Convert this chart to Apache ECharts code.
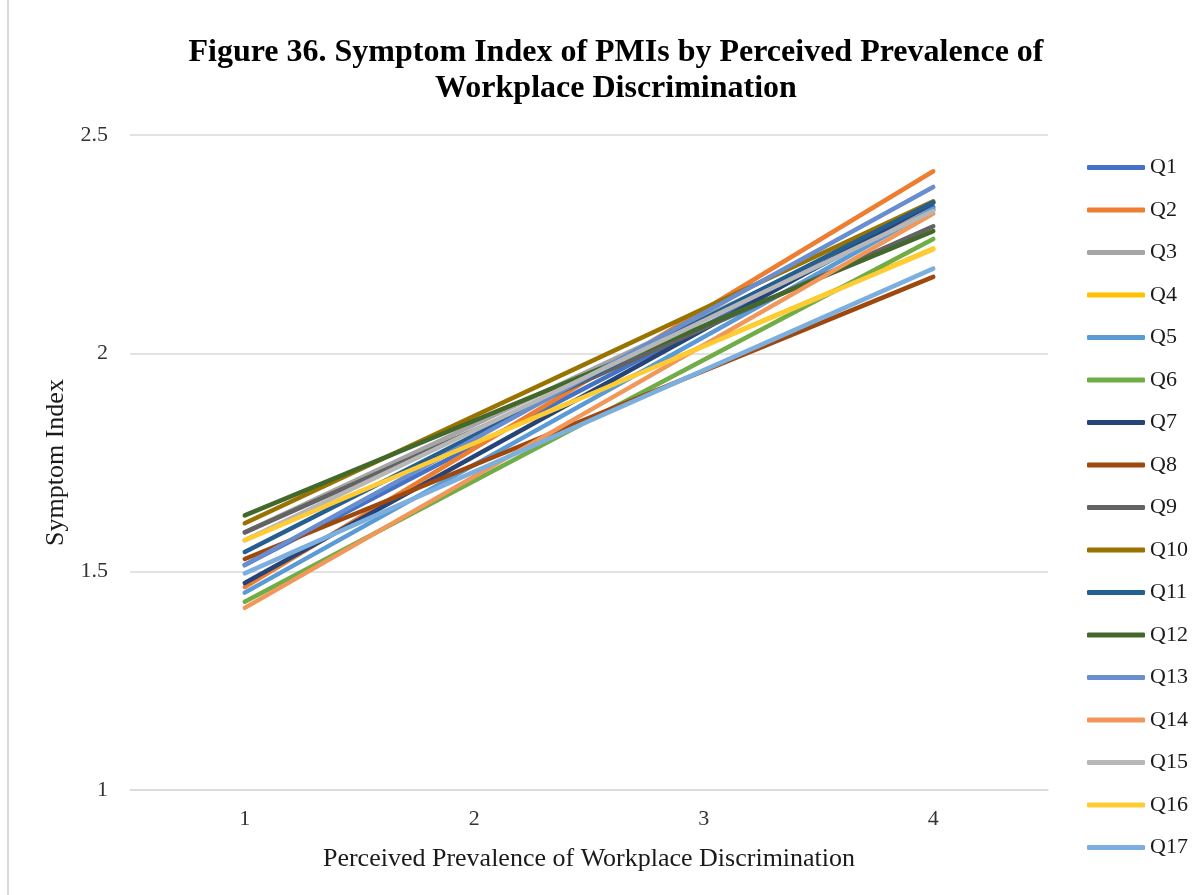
<!DOCTYPE html>
<html>
<head>
<meta charset="utf-8">
<script src="https://cdn.jsdelivr.net/npm/echarts@6/dist/echarts.min.js"></script>
<style>
  html, body { margin: 0; padding: 0; background: #ffffff; }
  #chart { width: 1204px; height: 895px; }
</style>
</head>
<body>
<div id="chart"></div>
<script>
// Perceived prevalence levels on the x axis
const categories = ['1', '2', '3', '4'];

// Symptom index per question: value at level 1 and level 4, straight line between
const seriesNames = ['Q1','Q2','Q3','Q4','Q5','Q6','Q7','Q8','Q9','Q10','Q11','Q12','Q13','Q14','Q15','Q16','Q17'];
const startValues = [1.515, 1.465, 1.590, 1.572, 1.452, 1.431, 1.474, 1.529, 1.590, 1.611, 1.545, 1.629, 1.515, 1.417, 1.572, 1.572, 1.496];
const endValues   = [2.335, 2.417, 2.330, 2.240, 2.330, 2.262, 2.345, 2.175, 2.291, 2.348, 2.346, 2.280, 2.381, 2.320, 2.326, 2.238, 2.194];

const seriesColors = ['#4472C4','#ED7D31','#A5A5A5','#FFC000','#5B9BD5','#70AD47','#264478','#9E480E',
                      '#636363','#997300','#255E91','#43682B','#698ED0','#F1975A','#B7B7B7','#FFCD33','#7CAFDD'];

const yTicks = { min: 1, max: 2.5, interval: 0.5 };

const serif = 'Liberation Serif, Times New Roman, serif';

const series = seriesNames.map((name, i) => ({
  name: name,
  type: 'line',
  data: [startValues[i], null, null, endValues[i]],
  connectNulls: true,
  symbol: 'none',
  color: seriesColors[i],
  lineStyle: { width: 4.5, cap: 'round', color: seriesColors[i] },
  emphasis: { disabled: true }
}));

const chart = echarts.init(document.getElementById('chart'), null, { renderer: 'canvas' });
chart.setOption({
  backgroundColor: '#ffffff',
  animation: false,
  title: {
    text: 'Figure 36. Symptom Index of PMIs by Perceived Prevalence of\nWorkplace Discrimination',
    left: 611,
    top: 30,
    textAlign: 'center',
    textStyle: { fontFamily: serif, fontWeight: 'bold', fontSize: 32, lineHeight: 36, color: '#000000' }
  },
  grid: { left: 130, right: 156, top: 135, bottom: 105, containLabel: false },
  xAxis: {
    type: 'category',
    data: categories,
    boundaryGap: true,
    name: 'Perceived Prevalence of Workplace Discrimination',
    nameLocation: 'middle',
    nameGap: 56,
    nameTextStyle: { fontFamily: serif, fontSize: 26, color: '#1a1a1a' },
    axisLine: { show: true, lineStyle: { color: '#d9d9d9', width: 1.5 } },
    axisTick: { show: false },
    axisLabel: { fontFamily: serif, fontSize: 22, color: '#333333', margin: 18 }
  },
  yAxis: {
    type: 'value',
    min: yTicks.min,
    max: yTicks.max,
    interval: yTicks.interval,
    name: 'Symptom Index',
    nameLocation: 'middle',
    nameGap: 51,
    nameRotate: 90,
    nameTextStyle: { fontFamily: serif, fontSize: 26, color: '#1a1a1a' },
    axisLine: { show: false },
    axisTick: { show: false },
    axisLabel: { fontFamily: serif, fontSize: 22, color: '#333333', margin: 22 },
    splitLine: { show: true, lineStyle: { color: '#d9d9d9', width: 1.5 } }
  },
  legend: {
    orient: 'vertical',
    left: 1082,
    top: 151.5,
    icon: 'roundRect',
    itemWidth: 58,
    itemHeight: 5,
    itemGap: 20.5,
    textStyle: { fontFamily: serif, fontSize: 22, lineHeight: 21, color: '#1a1a1a' },
    data: seriesNames
  },
  graphic: [{
    type: 'line',
    shape: { x1: 8, y1: 0, x2: 8, y2: 895 },
    style: { stroke: '#d9d9d9', lineWidth: 2 },
    silent: true
  }],
  series: series
});
</script>
</body>
</html>
